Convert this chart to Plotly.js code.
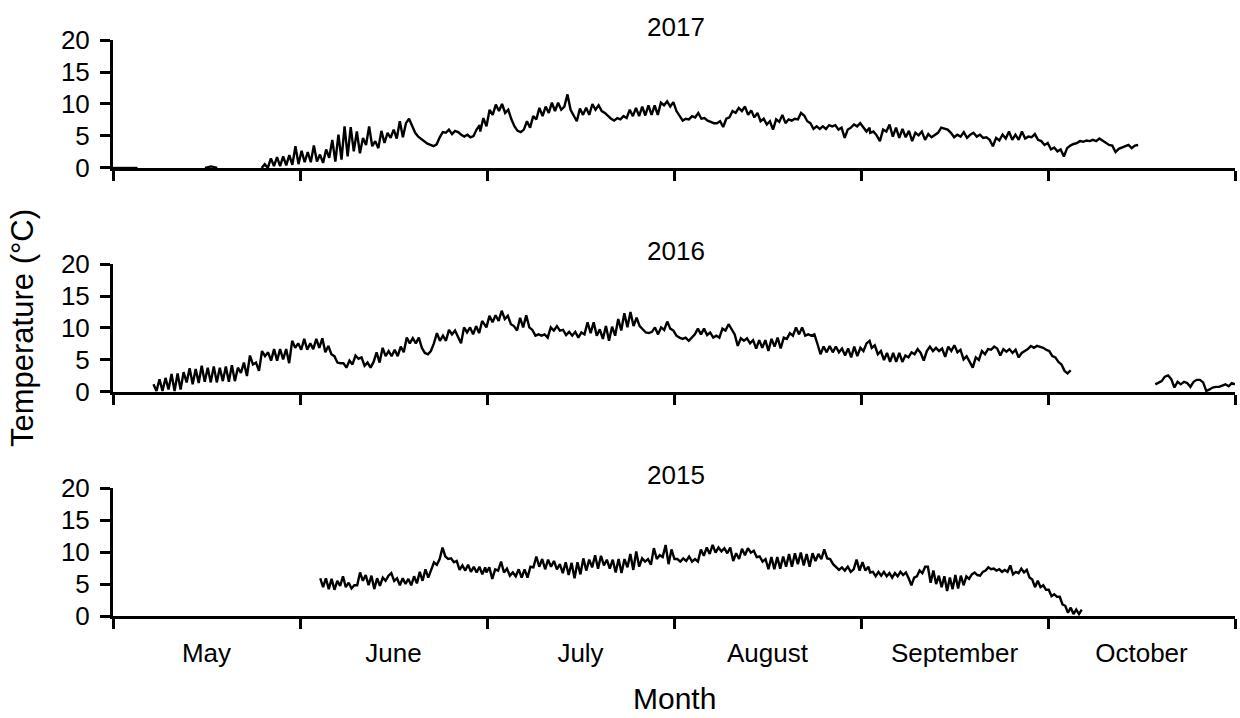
<!DOCTYPE html>
<html>
<head>
<meta charset="utf-8">
<script src="https://cdn.plot.ly/plotly-3.0.1.min.js"></script>
<style>html,body{margin:0;padding:0;background:#fff;}#chart{width:1240px;height:718px;}</style>
</head>
<body>
<div id="chart"></div>
<script>
// ---- Data (temperature °C; x in days since 1 May, 30.5 days per month) ----
const months = ["May", "June", "July", "August", "September", "October"];
const monthStarts = [0, 30.5, 61, 91.5, 122, 152.5, 183];
const yearTitles = ["2017", "2016", "2015"];

// 2017
const days17lead = [0, 4];
const t17lead = [0, 0, 0];
const days17blip = [15, 17];
const t17blip = [0, 0.25, 0];
const days17a = [24.25, 59.8];
const t17a = [0,0.6,0,1.5,0.3,1.7,0.3,1.8,0.4,2.0,0.5,3.4,0.6,2.7,0.9,2.5,0.9,3.5,1.0,2.1,0.8,2.9,1.6,4.4,1.0,5.2,1.3,6.5,1.8,6.4,2.6,5.7,2.3,4.7,3.6,6.5,3.4,4.2,3.1,5.8,3.9,5.5,4.7,6.0,4.6,7.3,4.8,
  7.0,7.7,6.5,5.5,4.9,4.5,4.2,3.8,3.6,3.4,3.7,4.8,5.6,5.5,6.0,5.3,5.8,5.6,5.2,4.9,5.2,4.8,5.0,6.0,6.7];
const days17b = [59.9, 123.4];
const t17b = [5.7,7.8,6.5,9.1,8.3,9.9,8.9,10,8.6,9.1,7.6,6.5,5.8,5.6,6.0,7.3,6.3,8.1,7.6,9.4,8.1,9.6,8.6,10.2,8.9,10.2,9.1,9.6,11.5,9.1,8.1,7.3,9.3,8.3,9.4,8.3,10,9.1,9.8,8.9,8.6,8.1,7.7,7.4,7.8,7.6,8.1,7.8,9.1,8.1,9.4,8.1,9.6,8.2,9.8,8.3,9.8,8.3,10.2,9.8,10.4,9.6,10.3,8.9,8.1,7.4,7.7,7.6,8.1,7.9,8.6,7.7,7.8,7.4,7.2,7.0,7.0,7.3,6.4,7.7,7.9,8.9,8.6,9.4,8.9,9.6,8.3,9.0,7.9,8.6,7.3,7.7,6.8,7.3,6.0,7.6,7.2,8.3,7.0,7.6,7.4,7.7,7.6,8.6,8.2,7.3,7.0,6.1,6.5,6.1,6.5,6.1,6.7,6.5,6.7,6.0,6.3,4.7,6.0,6.3,6.8,6.5,7.0,6.3,5.7,6.3];
const days17c = [123.5, 167.2];
const t17c = [5.5,5.7,5.1,4.2,6.0,5.7,6.8,4.9,6.3,4.7,6.1,4.8,5.8,4.2,5.5,5.1,5.7,4.4,5.3,4.8,5.2,5.5,6.3,6.1,6.0,5.5,4.8,5.2,4.9,5.6,4.7,5.2,5.5,4.9,5.2,4.7,4.8,4.4,3.4,4.7,4.3,5.2,4.6,5.7,4.4,5.2,4.4,5.7,4.6,4.9,4.8,5.3,4.4,4.2,3.6,3.9,2.9,3.2,2.6,2.9,1.8,3.1,3.5,3.75,3.9,4.2,4.1,4.3,4.2,4.4,4.2,4.6,4.3,3.9,3.6,3.5,2.5,3.0,3.2,3.5,3.6,3.1,3.5,3.6];

// 2016
const days16a = [6.6, 60.7];
const t16a = [1.2,0.15,2.0,0.15,2.2,0.4,2.8,0.15,2.9,0.4,3.1,1.5,3.7,1.2,3.6,1.4,4.1,1.6,3.8,1.5,4.0,1.5,3.8,1.7,4.0,1.6,4.2,1.7,3.8,3.0,4.6,2.5,5.7,4.3,4.6,3.3,6.4,5.6,6.2,4.9,6.7,4.9,6.7,5.1,6.7,4.5,8.0,6.9,7.6,6.6,8.3,6.6,7.6,6.7,8.3,6.9,8.4,6.2,7.2,5.9,5.6,4.6,4.5,4.5,3.8,4.9,4.3,5.7,5.2,5.4,4.1,4.6,3.8,4.7,6.2,4.6,6.9,5.6,6.4,5.6,6.6,5.6,7.1,6.2,8.5,7.6,8.4,7.6,8.5,6.9,6.1,5.9,6.4,7.6,9.2,8.0,8.8,8.0,9.7,9.0,9.6,8.5,7.6,10.1,9.3,10.1,9.0,10.3,9.2,11.1,10.3];
const days16b = [60.9, 123.4];
const t16b = [10.1,11.9,10.9,12.0,11.1,12.7,11.4,11.9,10.6,10.3,9.6,11.6,10.1,12.0,10.1,9.7,8.8,9.0,8.8,9.0,8.5,10.1,9.6,10.3,9.6,9.7,8.9,9.4,8.8,9.4,8.5,9.3,9.0,10.9,9.2,10.9,8.8,9.8,8.3,10.3,8.0,10.2,8.8,11.4,9.6,12.3,10.1,12.5,10.3,11.6,10.3,9.8,9.3,9.2,9.4,10.1,9.0,10.1,9.7,11.0,9.9,9.6,8.8,8.5,8.3,8.5,8.0,8.5,9.0,9.9,9.0,9.9,8.9,9.3,8.5,8.8,8.5,9.9,9.6,10.6,9.7,9.0,7.2,8.4,8.0,8.4,7.6,8.1,6.8,8.1,6.9,8.1,6.4,8.3,7.1,8.5,6.8,8.5,8.3,9.2,8.8,10.1,9.0,10.1,8.8,9.0,8.8,9.0,7.5,5.9,7.1,6.2,7.2,6.2,7.1,6.2,6.8,5.7,6.8,5.4,7.1,5.6,6.9,6.4,7.6,8.0];
const days16c = [123.75, 156.2];
const t16c = [6.9,7.3,5.9,6.4,5.0,6.1,4.7,6.1,4.7,6.1,4.7,5.7,5.4,6.2,5.9,6.7,6.1,4.9,6.4,7.1,6.4,6.9,6.4,6.8,5.5,7.1,6.4,7.3,6.2,6.6,5.1,5.6,4.7,3.8,5.4,5.0,6.4,5.9,6.7,6.6,7.1,6.8,5.7,6.7,6.3,6.7,6.1,6.6,5.4,6.1,6.4,6.7,7.2,6.9,7.2,7.1,6.9,6.6,6.4,5.6,5.4,4.7,4.3,3.3,2.9,3.4];
const days16d = [170.0, 183.0];
const t16d = [1.2,1.5,1.7,2.4,2.6,2.0,0.7,1.6,1.2,1.6,1.4,0.8,1.6,1.9,1.9,1.5,0.15,0.4,0.7,0.8,0.8,1.0,1.2,0.9,1.4,1.2];

// 2015
const days15a = [33.8, 60.7];
const t15a = [5.9,4.5,5.9,4.2,5.8,4.1,5.5,4.7,6.2,4.5,5.2,4.3,4.8,4.8,6.8,5.5,6.4,4.8,6.3,4.2,5.9,4.7,6.0,5.5,6.3,6.7,5.5,5.9,4.8,5.9,5.0,5.8,4.8,6.2,5.1,6.9,5.5,7.3,6.0,7.2,8.4,8.0,8.9,10.7,9.3,8.9,9.0,8.4,8.6,7.2,7.9,7.1,8.0,6.9,7.7,6.8,7.7,6.5,7.6];
const days15b = [60.9, 123.2];
const t15b = [6.8,7.6,5.8,7.3,7.1,8.5,6.8,7.4,6.3,6.8,6.2,7.3,6.0,7.3,6.0,7.7,7.6,9.3,7.7,8.9,7.3,8.8,7.7,8.6,7.3,8.1,6.7,8.4,6.4,8.3,5.9,8.4,6.5,9.0,7.1,8.8,7.6,9.5,7.4,9.4,7.9,8.8,7.4,8.8,6.8,8.9,6.7,8.9,7.6,9.7,7.2,10.1,7.7,9.0,8.5,8.9,8.0,10.6,8.9,9.5,9.2,11.1,8.1,10.4,8.9,8.9,8.5,9.0,8.6,9.3,8.5,8.9,8.5,10.4,9.4,10.7,9.7,11.1,9.9,10.7,10.1,10.6,9.8,10.7,8.6,9.8,8.9,10.5,9.5,10.6,9.9,10.2,9.2,9.3,8.5,8.9,7.3,9.2,7.3,9.2,7.4,9.3,7.7,9.7,7.7,9.8,8.1,9.9,7.9,9.7,7.7,9.8,8.6,9.7,8.9,10.4,9.0,8.9,8.1,7.7,7.2,7.6,7.1,7.7,6.9,7.3,8.8,7.1,8.4,7.1,7.7];
const days15c = [123.5, 158.0];
const t15c = [6.8,6.9,6.2,6.9,6.3,6.9,6.2,6.7,6.0,6.7,6.2,6.9,6.4,6.8,5.9,4.8,6.0,6.2,7.1,6.7,7.7,7.7,5.2,7.1,5.0,6.3,4.5,6.2,3.9,6.0,4.2,6.4,4.3,6.3,4.8,6.2,5.8,6.5,6.8,6.4,6.3,6.9,7.1,7.6,7.3,7.4,7.1,7.3,6.9,7.2,6.9,7.9,6.5,6.9,6.7,7.4,6.8,7.2,6.0,5.7,4.5,5.5,4.5,4.8,4.1,4.1,3.1,3.4,3.0,3.0,1.8,1.6,0.5,1.3,0.3,1.0,0.3,1.0];

// ---- helpers: evenly spaced samples within each read span ----
function spanX(vals, span) {
  const n = vals.length;
  return vals.map((v, i) => span[0] + (span[1] - span[0]) * i / (n - 1));
}
function series(chunks, gapAfter) {
  const x = [], y = [];
  chunks.forEach((c, k) => {
    x.push(...spanX(c[0], c[1])); y.push(...c[0]);
    if (gapAfter && gapAfter.includes(k)) { x.push(null); y.push(null); }
  });
  return {x, y};
}

const s17 = series([[t17lead, days17lead], [t17blip, days17blip], [t17a, days17a], [t17b, days17b], [t17c, days17c]], [0, 1]);
const s16 = series([[t16a, days16a], [t16b, days16b], [t16c, days16c], [t16d, days16d]], [2]);
const s15 = series([[t15a, days15a], [t15b, days15b], [t15c, days15c]]);

const FONT = "Liberation Sans, Arial, Helvetica, sans-serif";
const lineStyle = {color: "#000", width: 2.4};

const traces = [
  {x: s17.x, y: s17.y, xaxis: "x", yaxis: "y", mode: "lines", line: lineStyle, name: "2017", connectgaps: false, hoverinfo: "x+y"},
  {x: s16.x, y: s16.y, xaxis: "x2", yaxis: "y2", mode: "lines", line: lineStyle, name: "2016", connectgaps: false, hoverinfo: "x+y"},
  {x: s15.x, y: s15.y, xaxis: "x3", yaxis: "y3", mode: "lines", line: lineStyle, name: "2015", connectgaps: false, hoverinfo: "x+y"}
];

const midMonths = months.map((m, i) => (monthStarts[i] + monthStarts[i + 1]) / 2);

function xax(anchor, labels) {
  return {
    anchor: anchor, domain: [0, 1], range: [0, 183],
    showline: true, linecolor: "#000", linewidth: 3,
    showgrid: false, zeroline: false,
    tickmode: "array", tickvals: midMonths, ticktext: months,
    ticks: "", showticklabels: labels,
    tickfont: {family: FONT, size: 26, color: "#000"},
    ticklabelstandoff: 12,
    minor: {ticks: "outside", tickmode: "array", tickvals: monthStarts, ticklen: 10, tickwidth: 3, tickcolor: "#000", showgrid: false}
  };
}
function yax(anchor, domain) {
  return {
    anchor: anchor, domain: domain, range: [0, 20],
    tickmode: "array", tickvals: [0, 5, 10, 15, 20],
    ticks: "outside", ticklen: 10, tickwidth: 3, tickcolor: "#000",
    showline: true, linecolor: "#000", linewidth: 3,
    showgrid: false, zeroline: false,
    tickfont: {family: FONT, size: 26, color: "#000"},
    ticklabelstandoff: 5
  };
}

const ann = (text, x, y, size, extra) => Object.assign({
  text: text, xref: "paper", yref: "paper", x: x, y: y, showarrow: false,
  xanchor: "center", yanchor: "middle", font: {family: FONT, size: size, color: "#000"}
}, extra || {});

const layout = {
  width: 1240, height: 718,
  margin: {l: 113, r: 5, t: 40, b: 102},
  paper_bgcolor: "#fff", plot_bgcolor: "#fff",
  showlegend: false,
  font: {family: FONT, color: "#000"},
  xaxis: xax("y", false),
  xaxis2: xax("y2", false),
  xaxis3: xax("y3", true),
  yaxis: yax("x", [0.7778, 1]),
  yaxis2: yax("x2", [0.3889, 0.6111]),
  yaxis3: yax("x3", [0, 0.2222]),
  annotations: [
    ann(yearTitles[0], 0.502, 1.0226, 26),
    ann(yearTitles[1], 0.502, 0.6337, 26),
    ann(yearTitles[2], 0.502, 0.2448, 26),
    ann("Month", 0.5, -0.144, 30),
    ann("Temperature (°C)", -0.0811, 0.5, 31, {textangle: -90})
  ]
};

Plotly.newPlot("chart", traces, layout, {displayModeBar: false, staticPlot: true});
</script>
</body>
</html>
